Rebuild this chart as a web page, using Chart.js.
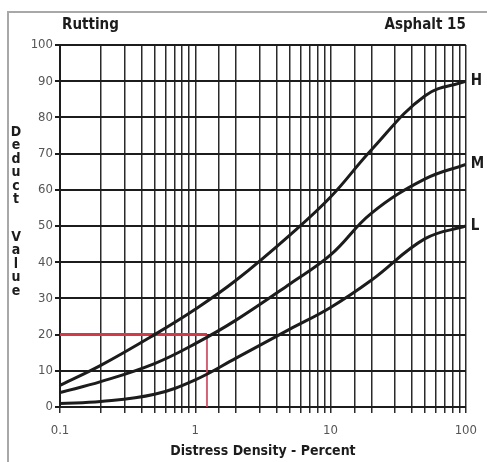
<!DOCTYPE html>
<html>
<head>
<meta charset="utf-8">
<script src="https://cdn.jsdelivr.net/npm/chart.js@4.4.0/dist/chart.umd.min.js"></script>
<style>
  html, body { margin: 0; padding: 0; background: #fff; }
  #wrap { position: relative; width: 487px; height: 462px; }
</style>
</head>
<body>
<div id="wrap"><canvas id="chart" width="487" height="462"></canvas></div>
<script>
const densities = [0.1, 0.2, 0.5, 1, 2, 5, 10, 20, 50, 100];

// deduct value per severity level
const highValues = [6, 11.5, 20, 27, 35, 47.5, 58, 71, 86, 90];
const mediumValues = [4, 7, 12, 17.5, 24, 34, 42, 53.5, 63, 67];
const lowValues = [1, 1.5, 3.5, 7.5, 13.5, 21.5, 27.5, 35, 46.5, 50];
const severityLabels = ["H", "M", "L"];

// worked example shown in red: 1.22 % density, medium severity -> 20
const exampleDensity = 1.22;
const exampleDeduct = 20;

// labelled ticks on the log axis
const xTickLabels = [0.1, 1, 10, 100];

const narrow = "'Liberation Sans Narrow', 'DejaVu Sans Condensed', sans-serif";
const ink = "#1c1c1c";

function curve(values) {
  return densities.map((d, i) => ({ x: d, y: values[i] }));
}

// frame, titles, stacked axis title and H/M/L labels
const annotations = {
  id: "annotations",
  beforeDraw(chart) {
    const ctx = chart.ctx;
    ctx.save();
    ctx.fillStyle = "#fff";
    ctx.fillRect(0, 0, chart.width, chart.height);
    ctx.strokeStyle = "#a8a8a8";
    ctx.lineWidth = 2;
    ctx.beginPath();
    ctx.moveTo(8, chart.height);
    ctx.lineTo(8, 12);
    ctx.lineTo(chart.width, 12);
    ctx.stroke();
    ctx.restore();
  },
  afterDraw(chart) {
    const { ctx, chartArea, scales } = chart;
    ctx.save();
    ctx.fillStyle = ink;
    ctx.textBaseline = "middle";
    ctx.font = "bold 15px " + narrow;
    ctx.textAlign = "left";
    ctx.fillText("Rutting", chartArea.left + 2, 25);
    ctx.textAlign = "right";
    ctx.fillText("Asphalt 15", chartArea.right, 25);

    ctx.textAlign = "left";
    [highValues, mediumValues, lowValues].forEach((vals, i) => {
      const y = scales.y.getPixelForValue(vals[vals.length - 1]);
      ctx.fillText(severityLabels[i], chartArea.right + 5, y);
    });

    ctx.font = "bold 14px " + narrow;
    ctx.textAlign = "center";
    let y = 132;
    for (const ch of "Deduct Value") {
      if (ch === " ") { y += 24; continue; }
      ctx.fillText(ch, 16, y);
      y += 13.5;
    }
    ctx.restore();
  }
};

new Chart(document.getElementById("chart"), {
  type: "line",
  data: {
    datasets: [
      {
        label: "H",
        data: curve(highValues),
        borderColor: ink,
        borderWidth: 3,
        tension: 0.4,
        order: 0
      },
      {
        label: "M",
        data: curve(mediumValues),
        borderColor: ink,
        borderWidth: 3,
        tension: 0.4,
        order: 0
      },
      {
        label: "L",
        data: curve(lowValues),
        borderColor: ink,
        borderWidth: 3,
        tension: 0.4,
        order: 0
      },
      {
        label: "example horizontal",
        data: [{ x: densities[0], y: exampleDeduct }, { x: exampleDensity, y: exampleDeduct }],
        borderColor: "#d23a48",
        borderWidth: 3,
        tension: 0,
        order: 1
      },
      {
        label: "example vertical",
        data: [{ x: exampleDensity, y: 0 }, { x: exampleDensity, y: exampleDeduct }],
        borderColor: "rgba(205, 70, 95, 0.85)",
        borderWidth: 2,
        tension: 0,
        order: 1
      }
    ]
  },
  options: {
    responsive: false,
    animation: false,
    elements: {
      point: { radius: 0 },
      line: { fill: false, capBezierPoints: true }
    },
    layout: {
      padding: { left: 0, top: 45, right: 17, bottom: 0 }
    },
    plugins: {
      legend: { display: false },
      tooltip: { enabled: false }
    },
    scales: {
      x: {
        type: "logarithmic",
        min: 0.1,
        max: 100,
        afterFit: scale => { scale.height = 55; },
        grid: {
          color: "#2a2a2a",
          lineWidth: 1.5,
          tickLength: 6,
          tickColor: "#2a2a2a"
        },
        border: { color: ink, width: 2 },
        ticks: {
          autoSkip: false,
          maxRotation: 0,
          padding: 10,
          color: "#555",
          font: { family: narrow, size: 13 },
          callback: value => {
            const hit = xTickLabels.find(l => Math.abs(l - value) < 1e-9);
            return hit === undefined ? "" : String(hit);
          }
        },
        title: {
          display: true,
          text: "Distress Density - Percent",
          color: ink,
          font: { family: narrow, size: 14, weight: "bold" },
          padding: { top: 0, bottom: 2 }
        }
      },
      y: {
        min: 0,
        max: 100,
        afterFit: scale => { scale.width = 60; },
        grid: {
          color: ink,
          lineWidth: 2,
          tickLength: 5,
          tickColor: ink
        },
        border: { color: ink, width: 2 },
        ticks: {
          stepSize: 10,
          padding: 2,
          color: "#555",
          font: { family: narrow, size: 13 }
        }
      }
    }
  },
  plugins: [annotations]
});
</script>
</body>
</html>
